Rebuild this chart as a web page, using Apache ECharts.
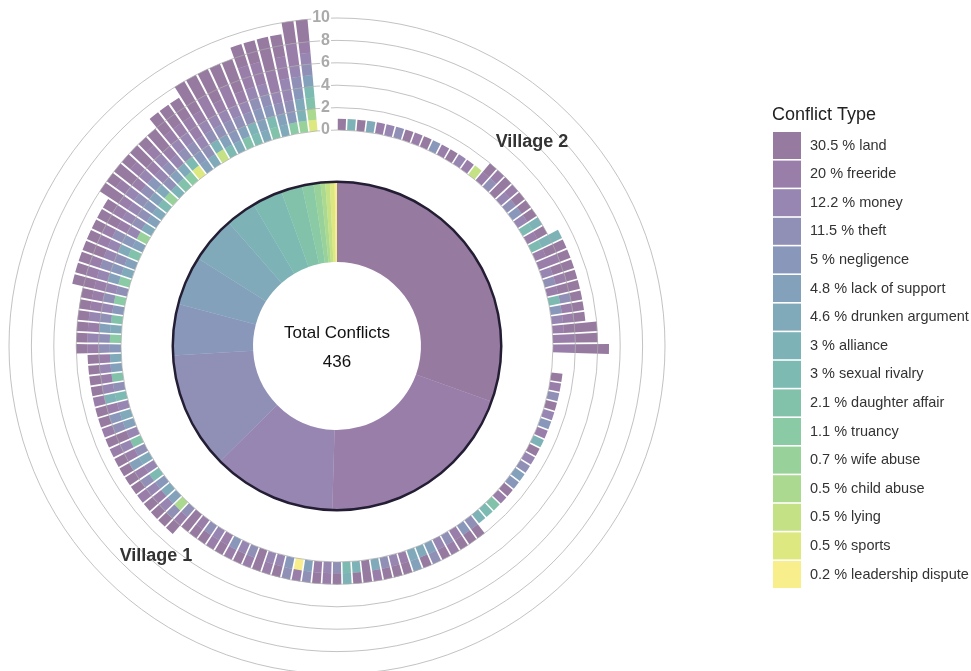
<!DOCTYPE html>
<html>
<head>
<meta charset="utf-8">
<script src="https://cdn.jsdelivr.net/npm/echarts/dist/echarts.min.js"></script>
<style>
html,body{margin:0;padding:0;background:#fff;}
#chart{width:971px;height:671px;}
</style>
</head>
<body>
<div id="chart"></div>
<script>
// ---- data ----
const typeNames = ['land','freeride','money','theft','negligence','lack of support','drunken argument','alliance','sexual rivalry','daughter affair','truancy','wife abuse','child abuse','lying','sports','leadership dispute'];
const typeCodes = ['L','F','M','T','N','S','D','A','R','H','U','W','C','Y','P','X'];
const typeColors = ['#967AA0','#997EAA','#9786B2','#908FB6','#8998BA','#83A1BB','#80AABA','#7DB2B6','#7DBAB1','#82C2AB','#8ACAA4','#98D29A','#ACD990','#C4E186','#DEE880','#F9EE8C'];

// each string = one person/bar; each letter = one conflict of that type
const village2Bars = [
  'L','A','L','D','F','M','T','L','F','L','N','F','L','M','F','Y',
  'LF','FT','LL','FM','LT','LN','LM','RA','FL',
  'RAA','LLF','LFF','LLM','LFT','LLF','RTL','NLF','LFM',
  'LLLF','LLFF',
  'LLLFF'
];
const village1Bars = [
  'L','F','T','L','M','N','F','A','L','M','T','S','N','L','F','H','R','A',
  'TL','NL','LF','TF','ML','TS','DL','DS','LF','LM','TL','DF','LL','AL','RA','TL','MF','LF','ST','XF','NT','LM','FM','LL','TF','ML','NF','LF','MF','LT','FL','LL',
  'LFT','CLT','LMS','LFD','FMN','LRT','LFM','LSD','LFT','HMF','LLM','FTS','LDN','LFM','RAF','LMT','HLF','LSM','LFD',
  'LFTN','LMTU','LFSD','LMTH','LFMN','LFTU',
  'LLFMT','LFMSU','LFTND','LLMTS','LFMDH','LFTSN','LLFMW','LFMTD',
  'LLFMTS','LFMTND','LLFTSR','LFMNDW','LLFMTA','LFMTSH','LLFMDU',
  'LLFMTRP','LLFMTSN','LLFFMTD',
  'LLLFMTAY','LLFFMTSR','LLLFMTND','LLFFMTSH','LLLFMTRA',
  'LLFFMTNSD','LLFFMTNRH','LLLFFMTSD','LLFFMMTNU',
  'LLFFMTNDAW','LLFMTSRHCP'
];
const gapSlots = 2;
const radiusTicks = [0, 2, 4, 6, 8, 10];
const villageLabels = ['Village 1', 'Village 2'];

// ---- build ----
const ALPHA = 0.6;
function toRgba(hex){
  const v=[1,3,5].map(k=>parseInt(hex.slice(k,k+2),16));
  const c=v.map(x=>Math.max(0,Math.min(255,Math.round((x-255*(1-ALPHA))/ALPHA))));
  return 'rgba('+c.join(',')+','+ALPHA+')';
}
const fills = typeColors.map(toRgba);
const slots = [].concat(village2Bars, Array(gapSlots).fill(''), village1Bars, Array(gapSlots).fill(''));
const cats = slots.map((_, i) => 's' + i);
const counts = typeCodes.map(code => slots.map(s => s.split('').filter(ch => ch === code).length));
const totals = counts.map(a => a.reduce((x, y) => x + y, 0));
const grand = totals.reduce((x, y) => x + y, 0);
const labels = typeNames.map((n, i) => (Math.round(totals[i] / grand * 1000) / 10) + ' % ' + n);

const FONT = '"Liberation Sans", Arial, Helvetica, sans-serif';
const CX = 337, CY = 346;

const barSeries = typeCodes.map((c, i) => i).reverse().map(i => ({
  type: 'bar', coordinateSystem: 'polar', stack: 'conf', name: labels[i],
  data: counts[i].map(v => v > 0 ? v : '-'),
  barCategoryGap: '16%',
  itemStyle: { color: fills[i] },
  silent: true, z: 2
}));

const option = {
  animation: false,
  backgroundColor: '#fff',
  polar: { center: [CX, CY], radius: [216, 328] },
  angleAxis: {
    type: 'category', data: cats, startAngle: 90, clockwise: true,
    axisLine: { show: false }, axisTick: { show: false }, axisLabel: { show: false }, splitLine: { show: false }
  },
  radiusAxis: {
    type: 'value', min: radiusTicks[0], max: radiusTicks[radiusTicks.length - 1], interval: 2, z: 5,
    axisLine: { show: false }, axisTick: { show: false },
    axisLabel: { color: '#aaaaaa', fontSize: 16, fontWeight: 'bold', fontFamily: FONT, margin: 6, backgroundColor: '#fff', padding: [0, 1] },
    splitLine: { show: true, lineStyle: { color: 'rgba(170,170,170,0.72)', width: 1 } }
  },
  legend: {
    orient: 'vertical', left: 773, top: 132, padding: 0,
    itemWidth: 28, itemHeight: 27, itemGap: 1.6, icon: 'rect',
    selectedMode: false,
    data: labels,
    textStyle: { fontSize: 14.5, color: '#333', fontFamily: FONT, padding: [0, 0, 0, 4] }
  },
  graphic: [
    { type: 'text', x: 772, y: 115, style: { text: 'Conflict Type', fontSize: 18, fill: '#222', fontFamily: FONT, textVerticalAlign: 'middle' } },
    { type: 'text', x: CX, y: 333, z: 10, style: { text: 'Total Conflicts', fontSize: 17, fill: '#111', fontFamily: FONT, textAlign: 'center', textVerticalAlign: 'middle' } },
    { type: 'text', x: CX, y: 362, z: 10, style: { text: String(grand), fontSize: 17, fill: '#111', fontFamily: FONT, textAlign: 'center', textVerticalAlign: 'middle' } },
    { type: 'text', x: 156, y: 556, z: 10, style: { text: villageLabels[0], fontSize: 18, fontWeight: 'bold', fill: '#333', fontFamily: FONT, textAlign: 'center', textVerticalAlign: 'middle' } },
    { type: 'text', x: 532, y: 142, z: 10, style: { text: villageLabels[1], fontSize: 18, fontWeight: 'bold', fill: '#333', fontFamily: FONT, textAlign: 'center', textVerticalAlign: 'middle' } }
  ],
  series: barSeries.concat([
    {
      type: 'pie', name: 'share', center: [CX, CY], radius: [84, 164], startAngle: 90, clockwise: true,
      silent: true, label: { show: false }, labelLine: { show: false }, emphasis: { disabled: true },
      data: typeNames.map((n, i) => ({ name: labels[i], value: totals[i], itemStyle: { color: fills[i] } })),
      z: 1
    },
    {
      type: 'pie', name: 'outline', center: [CX, CY], radius: [163, 165.5], startAngle: 90,
      silent: true, label: { show: false }, labelLine: { show: false }, emphasis: { disabled: true },
      data: [{ name: 'outline', value: 1, itemStyle: { color: '#241e35' } }],
      z: 1
    }
  ])
};
const chart = echarts.init(document.getElementById('chart'), null, { renderer: 'canvas' });
chart.setOption(option);
</script>
</body>
</html>
